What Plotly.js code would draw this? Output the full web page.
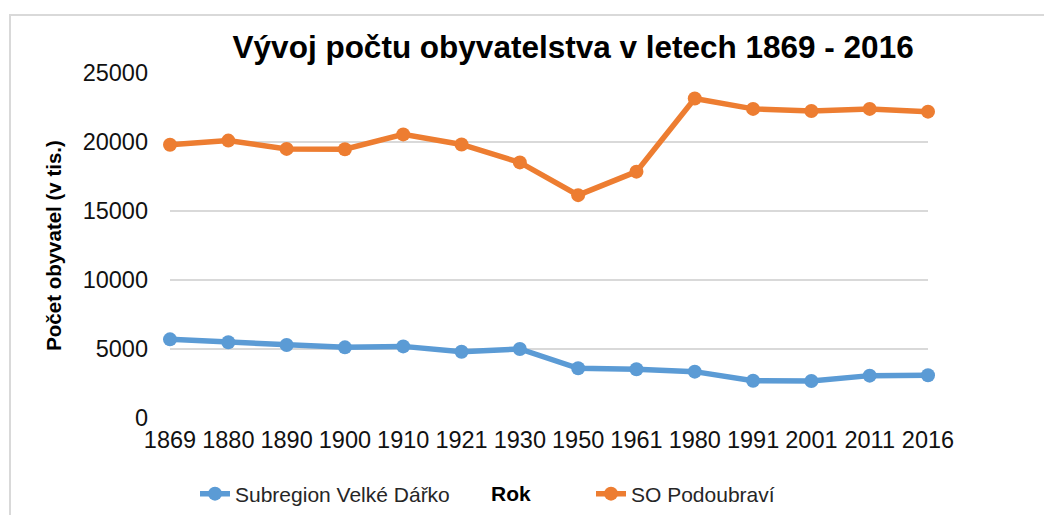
<!DOCTYPE html>
<html>
<head>
<meta charset="utf-8">
<script src="https://cdn.plot.ly/plotly-3.0.1.min.js"></script>
<style>html,body{margin:0;padding:0;background:#fff;}#chart{width:1044px;height:515px;}</style>
</head>
<body>
<div id="chart"></div>
<script>
const years = ["1869","1880","1890","1900","1910","1921","1930","1950","1961","1980","1991","2001","2011","2016"];
const velkeDarko = [5700, 5490, 5290, 5120, 5190, 4800, 5000, 3600, 3530, 3360, 2700, 2680, 3070, 3100];
const podoubravi = [19800, 20100, 19500, 19480, 20550, 19820, 18520, 16150, 17850, 23150, 22400, 22250, 22400, 22200];
const seriesNames = ["Subregion Velké Dářko", "SO Podoubraví"];
const titleText = "Vývoj počtu obyvatelstva v letech 1869 - 2016";
const yTitle = "Počet obyvatel (v tis.)";
const xTitle = "Rok";

const FONT = "Liberation Sans, Arial, sans-serif";
const PW = 758, PH = 345, PL = 170, PB = 418;
const px = v => (v - PL) / PW;
const py = v => (PB - v) / PH;

const traces = [
  {x: years, y: velkeDarko, name: seriesNames[0], type: "scatter", mode: "lines+markers", legend: "legend",
   line: {color: "#5B9BD5", width: 5.5}, marker: {color: "#5B9BD5", size: 14}, cliponaxis: false},
  {x: years, y: podoubravi, name: seriesNames[1], type: "scatter", mode: "lines+markers", legend: "legend2",
   line: {color: "#ED7D31", width: 5.5}, marker: {color: "#ED7D31", size: 14}, cliponaxis: false}
];

const legendBase = {orientation: "h", xanchor: "left", yanchor: "middle", y: py(494),
  font: {size: 21, family: FONT, color: "#262626"}, bgcolor: "rgba(0,0,0,0)", itemclick: false};

const layout = {
  width: 1044, height: 515,
  margin: {l: 170, r: 116, t: 73, b: 97, autoexpand: false},
  paper_bgcolor: "#fff", plot_bgcolor: "#fff",
  font: {family: FONT, color: "#000"},
  title: {text: "<b>" + titleText + "</b>", font: {size: 31.5, family: FONT, color: "#000"},
          xref: "container", yref: "container", x: 0.549, xanchor: "center", y: 1 - 47/515, yanchor: "middle"},
  showlegend: true,
  legend: Object.assign({}, legendBase, {x: px(195)}),
  legend2: Object.assign({}, legendBase, {x: px(591)}),
  xaxis: {type: "category", range: [0, 13], showgrid: false, zeroline: false, showline: false,
          ticks: "", tickfont: {size: 23.5, family: FONT, color: "#111"}, ticklabelstandoff: 5},
  yaxis: {range: [0, 25000], dtick: 5000, tick0: 0, tickformat: "d", showgrid: true,
          gridcolor: "#d9d9d9", gridwidth: 1.6, zeroline: false, showline: false, ticks: "",
          tickfont: {size: 23.5, family: FONT, color: "#111"}, ticklabelstandoff: 21,
          automargin: true,
          title: {text: "<b>" + yTitle + "</b>", font: {size: 20.5, family: FONT, color: "#000"}, standoff: 15}},
  annotations: [
    {text: "<b>" + xTitle + "</b>", xref: "paper", yref: "paper", x: px(511), y: py(494),
     xanchor: "center", yanchor: "middle", showarrow: false, font: {size: 21, family: FONT, color: "#000"}}
  ],
  shapes: [
    {type: "rect", xref: "paper", yref: "paper", x0: px(10), x1: px(1060),
     y0: py(540), y1: py(15), line: {color: "#d9d9d9", width: 2}, fillcolor: "rgba(0,0,0,0)", layer: "below"}
  ]
};

Plotly.newPlot("chart", traces, layout, {displayModeBar: false, staticPlot: true});
</script>
</body>
</html>
